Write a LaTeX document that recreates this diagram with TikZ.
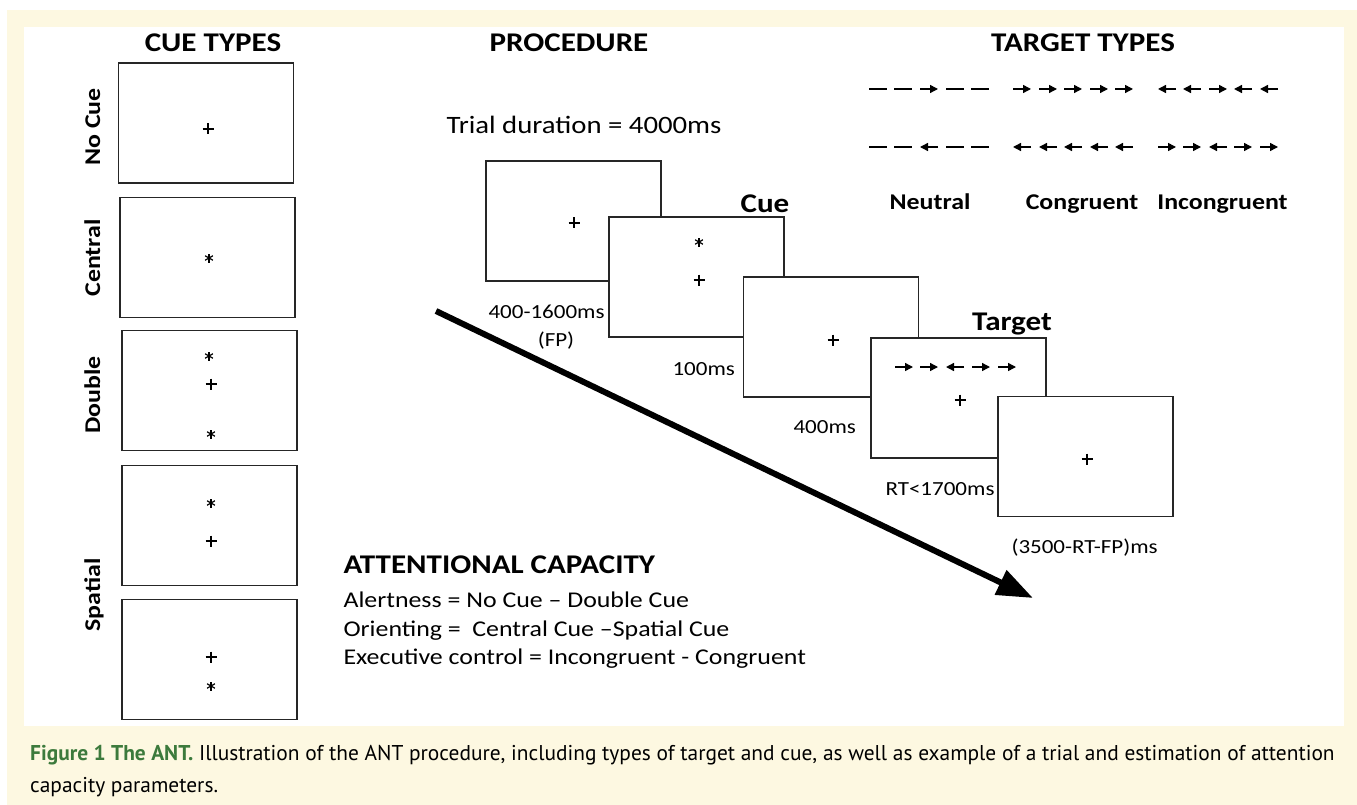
\documentclass[tikz,border=0pt]{standalone}
\usepackage{fontspec}
\setmainfont[FakeStretch=1.15]{Carlito}
\newfontfamily\capfont{PT Sans}
\usetikzlibrary{arrows.meta}
\definecolor{capcream}{RGB}{253,248,225}
\definecolor{capgreen}{RGB}{60,122,60}

\begin{document}
\begin{tikzpicture}[x=1pt,y=-1pt,
    screen/.style={draw=black!85, line width=1.6pt, fill=white,
      minimum width=175pt, minimum height=120pt, inner sep=0pt},
    head/.style={font=\fontsize{27}{30}\selectfont\bfseries, anchor=base},
    side/.style={font=\fontsize{22.5}{26}\selectfont\bfseries, rotate=90, anchor=base},
    kind/.style={font=\fontsize{22.5}{26}\selectfont\bfseries, anchor=base},
    timing/.style={font=\fontsize{20}{24}\selectfont, anchor=base west},
    rule/.style={font=\fontsize{22.5}{26}\selectfont, anchor=base west},
    legend/.style={anchor=base west, inner sep=0pt, font=\capfont\fontsize{21.4}{25}\selectfont},
    flow/.style={line width=6pt, -{Triangle[length=36pt,width=26pt]}},
    pics/fix/.style={code={\draw[line width=1.3pt] (-5.5,0) -- (5.5,0) (0,-5.5) -- (0,5.5);}},
    pics/cuestar/.style={code={\foreach \a in {90,30,150} \draw[line width=1.2pt] (\a:4.5) -- (\a+180:4.5);}},
    pics/rarr/.style={code={\draw[line width=1.4pt,-{Triangle[length=8pt,width=8pt]}] (-9,0) -- (9,0);}},
    pics/larr/.style={code={\draw[line width=1.4pt,-{Triangle[length=8pt,width=8pt]}] (9,0) -- (-9,0);}},
    pics/bar/.style={code={\draw[line width=1.4pt] (-9,0) -- (9,0);}}
  ]
  \useasboundingbox (0,0) rectangle (1357,805);
  \fill[white] (0,0) rectangle (1357,805);
  \fill[capcream] (7,10) rectangle (1357,805);
  \fill[white] (24,27) rectangle (1344,726);

  % headings
  \node[head] (cuehead) at (213,52) {CUE TYPES};
  \node[head] (prochead) at (569,52) {PROCEDURE};
  \node[head] (targhead) at (1083,52) {TARGET TYPES};

  % cue types
  \node[screen] (nocue) at (206,123) {};
  \node[screen] (central) at (207.5,257.5) {};
  \node[screen] (double) at (209.5,390.5) {};
  \node[screen] (spatialup) at (209.5,525.5) {};
  \node[screen] (spatialdn) at (209.5,659.5) {};
  \pic at (208,129) {fix};
  \pic at (209,258) {cuestar};
  \pic at (209,356) {cuestar};
  \pic at (211,384) {fix};
  \pic at (211,434) {cuestar};
  \pic at (211,503) {cuestar};
  \pic at (211,541) {fix};
  \pic at (211,657) {fix};
  \pic at (211,686) {cuestar};
  \node[side] (nocuelab) at (100,127) {No Cue};
  \node[side] (centrallab) at (100,258) {Central};
  \node[side] (doublelab) at (100,395) {Double};
  \node[side] (spatiallab) at (100,595) {Spatial};

  % procedure
  \node[timing, font=\fontsize{25}{28}\selectfont] (trial) at (443,134) {Trial duration = 4000ms};
  \node[screen] (fixscr) at (573.5,221) {};
  \pic at (574,223) {fix};
  \node[screen] (cuescr) at (696.5,277) {};
  \pic at (699,242) {cuestar};
  \pic at (699,280) {fix};
  \node[screen] (waitscr) at (831,337) {};
  \pic at (833,340) {fix};
  \node[screen] (targscr) at (958.5,398) {};
  \foreach \x/\d in {904/rarr,929/rarr,955/larr,981/rarr,1007/rarr}
    \pic at (\x,367) {\d};
  \pic at (960,400) {fix};
  \node[screen] (restscr) at (1085.5,456.5) {};
  \pic at (1087,459) {fix};
  \node[head] (cuelab) at (765,212) {Cue};
  \node[head] (targlab) at (1012,330) {Target};
  \node[timing] (fpA) at (485,318) {400-1600ms};
  \node[timing, anchor=base] (fpB) at (556,346) {(FP)};
  \node[timing] (cuedur) at (669,375) {100ms};
  \node[timing] (waitdur) at (790,433) {400ms};
  \node[timing] (rtdur) at (882,495) {RT<1700ms};
  \node[timing] (restdur) at (1008,553) {(3500-RT-FP)ms};
  \coordinate (flowS) at (436,311);
  \coordinate (flowE) at (1033,598);
  \draw[flow] (flowS) -- (flowE);

  % target types
  \foreach \x/\d in {878/bar,903/bar,929/rarr,955/bar,980/bar,
      1022/rarr,1048/rarr,1073/rarr,1099/rarr,1124/rarr,
      1167/larr,1192/larr,1218/rarr,1243/larr,1269/larr}
    \pic at (\x,89) {\d};
  \foreach \x/\d in {878/bar,903/bar,929/larr,955/bar,980/bar,
      1022/larr,1048/larr,1073/larr,1099/larr,1124/larr,
      1167/rarr,1192/rarr,1218/larr,1243/rarr,1269/rarr}
    \pic at (\x,147) {\d};
  \node[kind] (neutral) at (930,210) {Neutral};
  \node[kind] (congruent) at (1082,210) {Congruent};
  \node[kind] (incongruent) at (1222.5,210) {Incongruent};

  % attentional capacity
  \node[head, anchor=base west] (attn) at (340,573) {ATTENTIONAL CAPACITY};
  \node[rule] (alert) at (340,607) {Alertness = No Cue -- Double Cue};
  \node[rule] (orient) at (340,636) {Orienting = \ Central Cue --Spatial Cue};
  \node[rule] (exec) at (340,664) {Executive control = Incongruent - Congruent};

  % caption
  \node[legend] (capA) at (30,760)
    {{\color{capgreen}\bfseries Figure 1 The ANT.} Illustration of the ANT procedure, including types of target and cue, as well as example of a trial and estimation of attention};
  \node[legend] (capB) at (30,792) {capacity parameters.};
\end{tikzpicture}
\end{document}
